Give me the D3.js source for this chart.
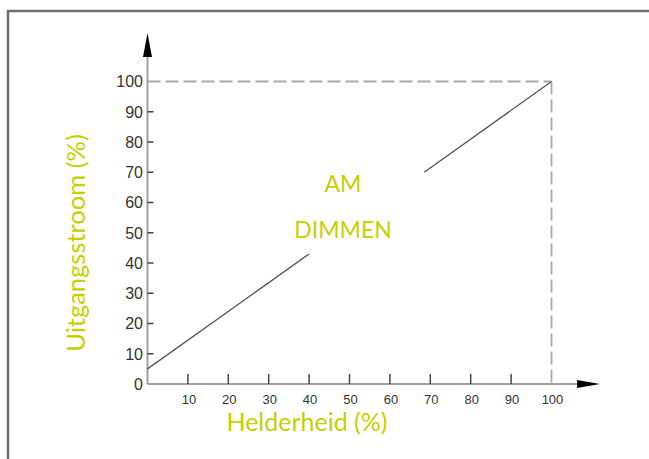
<!DOCTYPE html>
<html>
<head>
<meta charset="utf-8">
<script src="https://cdn.jsdelivr.net/npm/d3@7/dist/d3.min.js"></script>
<style>
  html, body { margin: 0; padding: 0; background: #fff; }
  svg { display: block; }
</style>
</head>
<body>
<svg id="chart" width="649" height="459"></svg>
<script>
// ---- data ----
const brightness = [0, 40, 54, 68.5, 100];          // Helderheid (%)
const current    = [5, 43, null, 70, 100];          // Uitgangsstroom (%) (null = gap behind label)
const xTickValues = [10, 20, 30, 40, 50, 60, 70, 80, 90, 100];
const xTickLabels = ["10", "20", "30", "40", "50", "60", "70", "80", "90", "100"];
const yTickValues = [0, 10, 20, 30, 40, 50, 60, 70, 80, 90, 100];
const yTickLabels = ["0", "10", "20", "30", "40", "50", "60", "70", "80", "90", "100"];
const xTitle = "Helderheid (%)";
const yTitle = "Uitgangsstroom (%)";
const noteLines = ["AM", "DIMMEN"];
const limitX = 100, limitY = 100;

// ---- layout ----
const svg = d3.select("#chart");
const green = "#c4d000";
const titleFont = "Lato, 'Open Sans', sans-serif";
const x = d3.scaleLinear().domain([0, 100]).range([147.5, 551.5]);
const y = d3.scaleLinear().domain([0, 100]).range([384, 81.5]);

// outer frame
svg.append("rect")
  .attr("x", 8).attr("y", 11).attr("width", 700).attr("height", 500)
  .attr("fill", "none").attr("stroke", "#6e6e6e").attr("stroke-width", 2.5);

// dashed limit lines
svg.append("line")
  .attr("x1", x(0)).attr("x2", x(limitX)).attr("y1", y(limitY)).attr("y2", y(limitY))
  .attr("stroke", "#a8a8a8").attr("stroke-width", 1.8).attr("stroke-dasharray", "13,5");
svg.append("line")
  .attr("x1", x(limitX)).attr("x2", x(limitX)).attr("y1", y(limitY)).attr("y2", y(0))
  .attr("stroke", "#a8a8a8").attr("stroke-width", 1.8).attr("stroke-dasharray", "13,5");

// axes lines
const axisColor = "#a0a0a0";
svg.append("line").attr("x1", x(0)).attr("x2", 580).attr("y1", y(0)).attr("y2", y(0))
  .attr("stroke", axisColor).attr("stroke-width", 2);
svg.append("line").attr("x1", x(0)).attr("x2", x(0)).attr("y1", y(0)).attr("y2", 55)
  .attr("stroke", axisColor).attr("stroke-width", 2);

// arrowheads
svg.append("path")
  .attr("d", `M${x(0)},33 L${x(0) - 4.5},57 L${x(0) + 4.5},57 Z`).attr("fill", "#000");
svg.append("path")
  .attr("d", `M600,${y(0)} L577,${y(0) - 4} L577,${y(0) + 4} Z`).attr("fill", "#000");

// x ticks (upward) and labels
const xAxisG = svg.append("g");
xAxisG.selectAll("line.tick")
  .data(xTickValues.filter(v => v !== limitX))
  .join("line")
  .attr("x1", d => x(d)).attr("x2", d => x(d))
  .attr("y1", y(0)).attr("y2", y(0) - 10)
  .attr("stroke", "#444").attr("stroke-width", 1.5);
xAxisG.selectAll("text")
  .data(xTickValues)
  .join("text")
  .attr("x", d => x(d) + 1).attr("y", y(0) + 20)
  .attr("text-anchor", "middle")
  .attr("font-family", "Arial, 'Liberation Sans', sans-serif")
  .attr("font-size", 13).attr("fill", "#333")
  .text((d, i) => xTickLabels[i]);

// y ticks (inward) and labels
const yAxisG = svg.append("g");
yAxisG.selectAll("line.tick")
  .data(yTickValues.filter(v => v !== 0 && v !== limitY))
  .join("line")
  .attr("x1", x(0)).attr("x2", x(0) + 6)
  .attr("y1", d => y(d)).attr("y2", d => y(d))
  .attr("stroke", "#444").attr("stroke-width", 1.5);
yAxisG.selectAll("text")
  .data(yTickValues)
  .join("text")
  .attr("x", 143).attr("y", d => y(d))
  .attr("dy", "0.36em")
  .attr("text-anchor", "end")
  .attr("font-family", "Arial, 'Liberation Sans', sans-serif")
  .attr("font-size", 16).attr("fill", "#333")
  .text((d, i) => yTickLabels[i]);

// data line
const pts = brightness.map((b, i) => ({ b, c: current[i] }));
const lineGen = d3.line().defined(d => d.c !== null).x(d => x(d.b)).y(d => y(d.c));
svg.append("path")
  .attr("d", lineGen(pts))
  .attr("fill", "none").attr("stroke", "#555").attr("stroke-width", 1.3);

// annotation
svg.append("text").attr("x", 343).attr("y", 192).attr("text-anchor", "middle")
  .attr("font-family", titleFont).attr("font-size", 23).attr("fill", green).text(noteLines[0]);
svg.append("text").attr("x", 343).attr("y", 238).attr("text-anchor", "middle")
  .attr("font-family", titleFont).attr("font-size", 23).attr("fill", green).text(noteLines[1]);

// axis titles
svg.append("text").attr("x", 307).attr("y", 431).attr("text-anchor", "middle")
  .attr("font-family", titleFont).attr("font-size", 25).attr("fill", green).text(xTitle);
svg.append("text")
  .attr("transform", "translate(85,243) rotate(-90)")
  .attr("text-anchor", "middle")
  .attr("font-family", titleFont).attr("font-size", 25.5).attr("fill", green).text(yTitle);
</script>
</body>
</html>
